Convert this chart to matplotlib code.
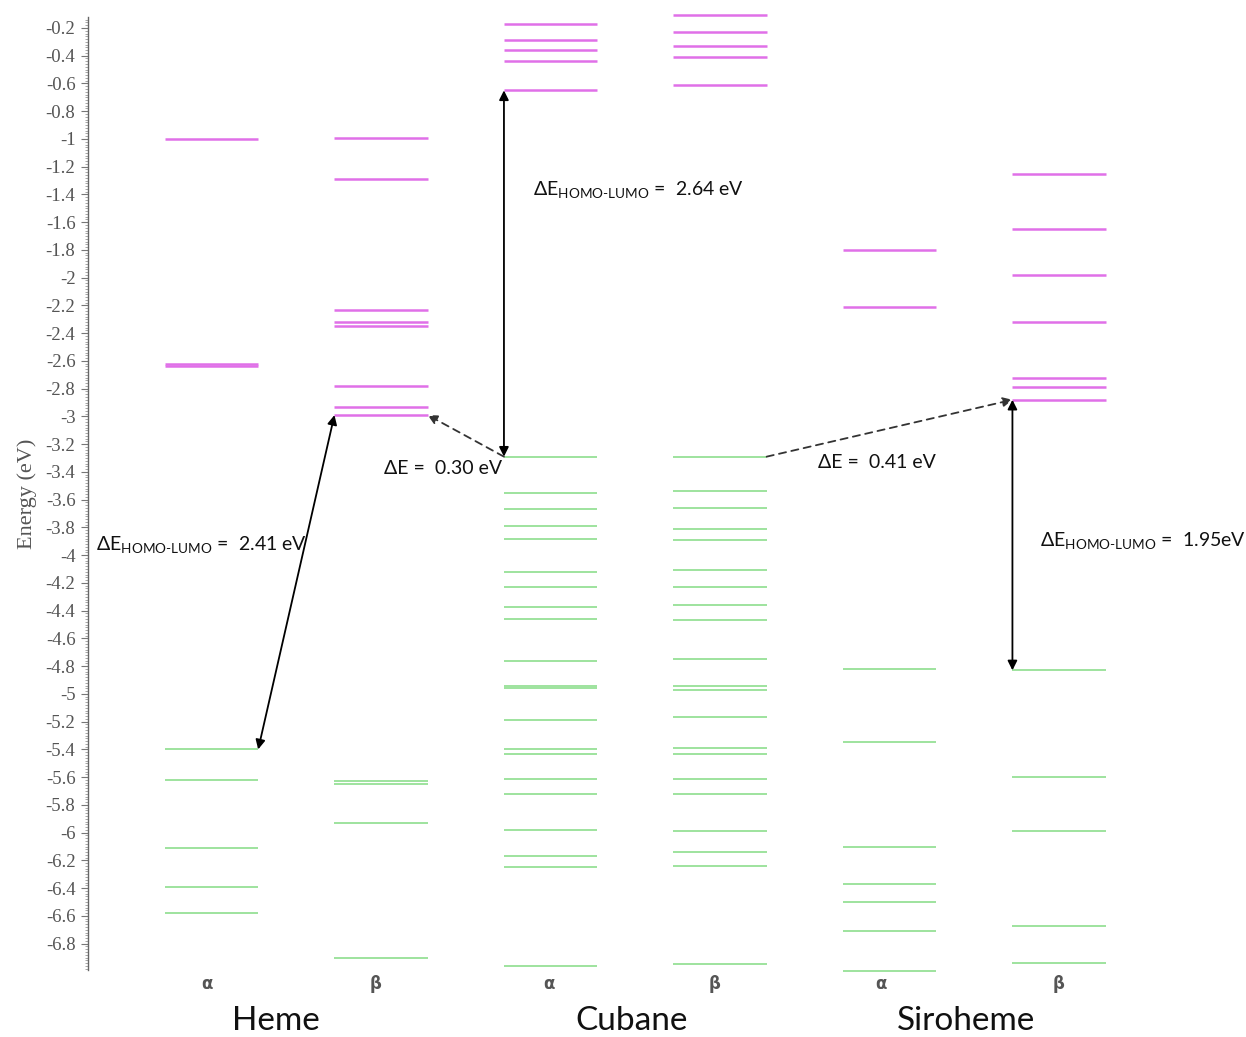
import numpy as np
import matplotlib.pyplot as plt
from matplotlib.ticker import FixedLocator, MultipleLocator, FuncFormatter

plt.rcParams['mathtext.fontset'] = 'custom'
plt.rcParams['mathtext.rm'] = 'Lato'
plt.rcParams['mathtext.it'] = 'Lato'

# orbital energies (eV), unoccupied (lumo) and occupied (homo) for each spin channel
heme_a_lumo = [-1.00, -2.62, -2.64]
heme_a_homo = [-5.40, -5.62, -6.11, -6.39, -6.58]
heme_b_lumo = [-0.99, -1.29, -2.23, -2.32, -2.35, -2.78, -2.93, -2.99]
heme_b_homo = [-5.63, -5.65, -5.93, -6.90]
cub_a_lumo = [-0.17, -0.29, -0.36, -0.44, -0.65]
cub_a_homo = [-3.29, -3.55, -3.67, -3.79, -3.88, -4.12, -4.23, -4.37, -4.46, -4.76, -4.94,
              -4.96, -5.19, -5.40, -5.43, -5.61, -5.72, -5.98, -6.17, -6.25, -6.96]
cub_b_lumo = [-0.11, -0.23, -0.33, -0.41, -0.61]
cub_b_homo = [-3.29, -3.54, -3.66, -3.81, -3.89, -4.11, -4.23, -4.36, -4.47, -4.75, -4.94,
              -4.97, -5.17, -5.39, -5.43, -5.61, -5.72, -5.99, -6.14, -6.24, -6.95]
sir_a_lumo = [-1.80, -2.21]
sir_a_homo = [-4.82, -5.35, -6.10, -6.37, -6.50, -6.71, -7.00]
sir_b_lumo = [-1.25, -1.65, -1.98, -2.32, -2.72, -2.79, -2.88]
sir_b_homo = [-4.83, -5.60, -5.99, -6.67, -6.94]

columns = [(heme_a_lumo, heme_a_homo), (heme_b_lumo, heme_b_homo),
           (cub_a_lumo, cub_a_homo), (cub_b_lumo, cub_b_homo),
           (sir_a_lumo, sir_a_homo), (sir_b_lumo, sir_b_homo)]
spins = ['α', 'β', 'α', 'β', 'α', 'β']
systems = ['Heme', 'Cubane', 'Siroheme']

lumo_color = '#e070e8'
homo_color = '#9ee39e'
hw = 0.275

fig = plt.figure(figsize=(12.46, 10.37), dpi=100)
ax = fig.add_axes([88 / 1246, 67 / 1037, 1158 / 1246, 953 / 1037])

xs = np.arange(1, len(columns) + 1)
for x, (lumo, homo) in zip(xs, columns):
    ax.hlines(lumo, x - hw, x + hw, color=lumo_color, lw=1.8, clip_on=False)
    ax.hlines(homo, x - hw, x + hw, color=homo_color, lw=1.4, clip_on=False)

ax.set_xlim(0.271, 7.103)
ax.set_ylim(-6.99, -0.121)

# y axis: ticks every 0.2 eV with fine minor ticks
ax.yaxis.set_major_locator(FixedLocator(np.round(np.arange(-0.2, -6.81, -0.2), 1)))
ax.yaxis.set_minor_locator(MultipleLocator(0.02))
ax.yaxis.set_major_formatter(FuncFormatter(lambda v, p: f'{v:g}'))
ax.tick_params(axis='y', which='major', length=5, width=0.8, color='#777777',
               labelsize=13.5, labelcolor='#555555', pad=4)
ax.tick_params(axis='y', which='minor', length=2.5, width=0.6, color='#999999')
for lab in ax.get_yticklabels():
    lab.set_family('Liberation Serif')
ax.set_xticks([])
for side in ['top', 'right', 'bottom']:
    ax.spines[side].set_visible(False)
ax.spines['left'].set_color('#666666')
ax.spines['left'].set_linewidth(1.0)
ax.set_ylabel('Energy (eV)', family='Liberation Serif', fontsize=16, color='#555555', labelpad=6)

# spin labels and system names under the columns
spin_x = [0.97, 1.97, 2.99, 3.97, 4.95, 6.00]
for x, s in zip(spin_x, spins):
    ax.text(x, -7.09, s, ha='center', va='center', fontsize=12, color='#555555',
            family='DejaVu Sans', fontweight='bold')
name_x = [1.38, 3.48, 5.45]
for x, name in zip(name_x, systems):
    ax.text(x, -7.36, name, ha='center', va='center',
            fontsize=24, family='Lato', color='#111111')

solid = dict(arrowstyle='<|-|>', color='black', lw=1.3, mutation_scale=14, shrinkA=0, shrinkB=0)
dashed = dict(arrowstyle='-|>', color='#333333', lw=1.3, linestyle=(0, (4, 3)),
              mutation_scale=14, shrinkA=0, shrinkB=0)

# heme gap: alpha HOMO to beta LUMO
ax.annotate('', xy=(xs[0] + hw, heme_a_homo[0]), xytext=(xs[1] - hw, heme_b_lumo[-1]), arrowprops=solid)
# cubane gap
ax.annotate('', xy=(xs[2] - hw, cub_a_lumo[-1]), xytext=(xs[2] - hw, cub_a_homo[0]), arrowprops=solid)
# siroheme gap
ax.annotate('', xy=(xs[5] - hw, sir_b_lumo[-1]), xytext=(xs[5] - hw, sir_b_homo[0]), arrowprops=solid)
# cubane -> heme and cubane -> siroheme
ax.annotate('', xy=(xs[1] + hw, heme_b_lumo[-1]), xytext=(xs[2] - hw, cub_a_homo[0]), arrowprops=dashed)
ax.annotate('', xy=(xs[5] - hw, sir_b_lumo[-1]), xytext=(xs[3] + hw, cub_b_homo[0]), arrowprops=dashed)

gap = r'$\mathrm{\Delta E_{HOMO‐LUMO}}$'
lab = dict(fontsize=14, family='Lato', color='#111111', va='center', ha='left')
ax.text(0.319, -3.925, gap + ' =  2.41 eV', **lab)
ax.text(2.897, -1.367, gap + ' =  2.64 eV', **lab)
ax.text(5.888, -3.896, gap + ' =  1.95eV', **lab)
ax.text(2.018, -3.377, 'ΔE =  0.30 eV', **lab)
ax.text(4.578, -3.334, 'ΔE =  0.41 eV', **lab)

fig.savefig('out.png', dpi=100)
